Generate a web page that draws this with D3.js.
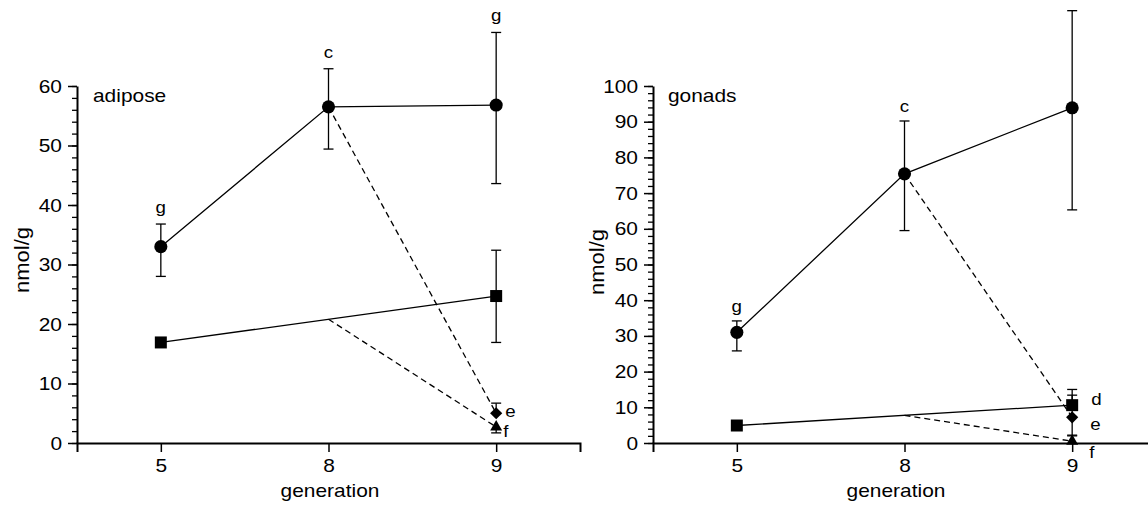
<!DOCTYPE html>
<html>
<head>
<meta charset="utf-8">
<script src="https://cdn.jsdelivr.net/npm/d3@7"></script>
<style>
  body { margin: 0; background: #fff; }
  svg { display: block; }
  text { font-family: "Liberation Sans", Arial, sans-serif; fill: #000; }
</style>
</head>
<body>
<svg id="chart" width="1148" height="506"></svg>
<script>
// ---- data -------------------------------------------------------------
const generations = ["5", "8", "9"];
const yTitle = "nmol/g";
const xTitle = "generation";

// adipose tissue
const adiposeCircleMean = [33.0, 56.5, 56.8];
const adiposeCircleLow = [28.0, 49.4, 43.6];
const adiposeCircleHigh = [36.8, 62.9, 69.0];
const adiposeCircleLetters = ["g", "c", "g"];
const adiposeSquareGens = ["5", "9"];
const adiposeSquareMean = [16.9, 24.7];
const adiposeSquareLow = [null, 16.9];
const adiposeSquareHigh = [null, 32.4];
const adiposeSquareLetters = [null, null];
const adiposeDiamondMean = [5.0];
const adiposeDiamondLow = [null];
const adiposeDiamondHigh = [6.7];
const adiposeDiamondLetters = ["e"];
const adiposeTriangleMean = [2.7];
const adiposeTriangleLow = [1.7];
const adiposeTriangleHigh = [null];
const adiposeTriangleLetters = ["f"];

// gonads
const gonadsCircleMean = [31.0, 75.4, 93.9];
const gonadsCircleLow = [25.8, 59.5, 65.3];
const gonadsCircleHigh = [34.2, 90.2, 121.1];
const gonadsCircleLetters = ["g", "c", null];
const gonadsSquareGens = ["5", "9"];
const gonadsSquareMean = [4.9, 10.6];
const gonadsSquareLow = [null, null];
const gonadsSquareHigh = [null, 15.0];
const gonadsSquareLetters = [null, "d"];
const gonadsDiamondMean = [7.2];
const gonadsDiamondLow = [2.0];
const gonadsDiamondHigh = [13.4];
const gonadsDiamondLetters = ["e"];
const gonadsTriangleMean = [0.5];
const gonadsTriangleLow = [null];
const gonadsTriangleHigh = [2.2];
const gonadsTriangleLetters = ["f"];

// ---- drawing ------------------------------------------------------------
const svg = d3.select("#chart");
const FONT = '"Liberation Sans", Arial, sans-serif';
const Y0 = 443, YTOP = 86;
const LABEL = 19;     // axis / title font size
const LETTER = 17;    // significance letters
const WIDEN = 1.1;    // slightly wide lettering

function points(gens, mean, low, high, letters) {
  return gens.map((g, i) => ({ gen: g, v: mean[i], lo: low[i], hi: high[i], letter: letters[i] }));
}

const symCircle = d3.symbol().type(d3.symbolCircle).size(135)();
const symSquare = d3.symbol().type(d3.symbolSquare).size(144)();
const symDiamond = d3.symbol().type(d3.symbolSquare).size(74)();
const symTriangle = d3.symbol().type(d3.symbolTriangle).size(62)();

function drawPanel(p) {
  const x = d3.scalePoint().domain(generations).range(p.xRange).padding(0.5);
  const y = d3.scaleLinear().domain([0, p.yMax]).range([Y0, YTOP]);
  const g = svg.append("g");

  // y axis: minor ticks every 2, major every 10
  const yMinor = g.append("g").attr("transform", `translate(${p.xRange[0]},0)`)
    .call(d3.axisLeft(y).tickValues(d3.range(0, p.yMax + 0.5, 2)).tickSize(5).tickFormat("").tickSizeOuter(0));
  yMinor.select(".domain").remove();
  yMinor.selectAll("line").attr("stroke-width", 1.3);

  const yMajor = g.append("g").attr("transform", `translate(${p.xRange[0]},0)`)
    .call(d3.axisLeft(y).tickValues(d3.range(0, p.yMax + 0.5, 10)).tickSize(9).tickPadding(6).tickSizeOuter(0));
  yMajor.attr("font-size", LABEL).attr("font-family", FONT);
  yMajor.select(".domain").attr("stroke-width", 2);
  yMajor.selectAll(".tick line").attr("stroke-width", 1.5);

  // x axis
  const xAxis = g.append("g").attr("transform", `translate(0,${Y0})`)
    .call(d3.axisBottom(x).tickSize(9).tickSizeOuter(9).tickPadding(7));
  xAxis.attr("font-size", LABEL).attr("font-family", FONT);
  xAxis.select(".domain").attr("stroke-width", 2);
  xAxis.selectAll(".tick line").attr("stroke-width", 1.5);

  // axis titles and panel name
  g.append("text").attr("x", p.xTitleX).attr("y", 497).attr("text-anchor", "middle")
    .attr("font-size", LABEL).text(xTitle);
  g.append("text").attr("transform", `translate(${p.yTitleX},${p.yTitleY}) rotate(-90)`)
    .attr("text-anchor", "middle").attr("font-size", 20).text(yTitle);
  g.append("text").attr("x", p.nameX).attr("y", 102).attr("font-size", LABEL).text(p.name);

  const px = d => x(d.gen), py = d => y(d.v);
  const circles = p.circles, squares = p.squares;
  const diamond = p.diamond[0], triangle = p.triangle[0];

  // solid connecting lines
  const line = d3.line().x(px).y(py);
  g.append("path").attr("d", line(circles)).attr("fill", "none").attr("stroke", "#000").attr("stroke-width", 1.3);
  g.append("path").attr("d", line(squares)).attr("fill", "none").attr("stroke", "#000").attr("stroke-width", 1.3);

  // dashed branches leaving generation 8
  const c8 = circles.find(d => d.gen === "8");
  const s0 = squares[0], s1 = squares[1];
  const t = (x("8") - px(s0)) / (px(s1) - px(s0));
  const branchY = py(s0) + t * (py(s1) - py(s0));
  const dashed = [
    [[x("8"), y(c8.v)], [px(diamond), py(diamond)]],
    [[x("8"), branchY], [px(triangle), py(triangle)]]
  ];
  g.selectAll(".branch").data(dashed).join("path").attr("class", "branch")
    .attr("d", d3.line()).attr("fill", "none").attr("stroke", "#000")
    .attr("stroke-width", 1.3).attr("stroke-dasharray", "6,4");

  // error bars
  const all = [...circles, ...squares, diamond, triangle];
  const eb = g.append("g").attr("stroke", "#000").attr("stroke-width", 1.3);
  all.forEach(d => {
    const cx = px(d);
    const top = d.hi != null ? y(d.hi) : py(d);
    const bot = d.lo != null ? y(d.lo) : py(d);
    eb.append("line").attr("x1", cx).attr("x2", cx).attr("y1", top).attr("y2", bot);
    if (d.hi != null) eb.append("line").attr("x1", cx - 5).attr("x2", cx + 5).attr("y1", top).attr("y2", top);
    if (d.lo != null) eb.append("line").attr("x1", cx - 5).attr("x2", cx + 5).attr("y1", bot).attr("y2", bot);
  });

  // markers
  const mark = (data, path, rot) => g.selectAll(null).data(data).join("path")
    .attr("d", path).attr("fill", "#000")
    .attr("transform", d => `translate(${px(d)},${py(d)})${rot ? " rotate(45)" : ""}`);
  mark(circles, symCircle);
  mark(squares, symSquare);
  mark([diamond], symDiamond, true);
  mark([triangle], symTriangle);

  // letters above the circle error bars
  g.selectAll(null).data(circles.filter(d => d.letter)).join("text")
    .attr("x", px).attr("y", d => y(d.hi) - p.letterGap)
    .attr("text-anchor", "middle").attr("font-size", LETTER).text(d => d.letter);

  // letters beside the generation-9 markers
  p.side.forEach(s => {
    const d = s.point;
    g.append("text").attr("x", px(d) + s.dx).attr("y", py(d) + s.dy)
      .attr("font-size", LETTER).text(d.letter);
  });
}

const adiposeCircles = points(generations, adiposeCircleMean, adiposeCircleLow, adiposeCircleHigh, adiposeCircleLetters);
const adiposeSquares = points(adiposeSquareGens, adiposeSquareMean, adiposeSquareLow, adiposeSquareHigh, adiposeSquareLetters);
const adiposeDiamond = points(["9"], adiposeDiamondMean, adiposeDiamondLow, adiposeDiamondHigh, adiposeDiamondLetters);
const adiposeTriangle = points(["9"], adiposeTriangleMean, adiposeTriangleLow, adiposeTriangleHigh, adiposeTriangleLetters);

drawPanel({
  name: "adipose", yMax: 60, xRange: [77, 580],
  xTitleX: 330, yTitleX: 29, yTitleY: 260, nameX: 93, letterGap: 11,
  circles: adiposeCircles, squares: adiposeSquares,
  diamond: adiposeDiamond, triangle: adiposeTriangle,
  side: [
    { point: adiposeDiamond[0], dx: 9, dy: 4 },
    { point: adiposeTriangle[0], dx: 7, dy: 10 }
  ]
});

const gonadsCircles = points(generations, gonadsCircleMean, gonadsCircleLow, gonadsCircleHigh, gonadsCircleLetters);
const gonadsSquares = points(gonadsSquareGens, gonadsSquareMean, gonadsSquareLow, gonadsSquareHigh, gonadsSquareLetters);
const gonadsDiamond = points(["9"], gonadsDiamondMean, gonadsDiamondLow, gonadsDiamondHigh, gonadsDiamondLetters);
const gonadsTriangle = points(["9"], gonadsTriangleMean, gonadsTriangleLow, gonadsTriangleHigh, gonadsTriangleLetters);

drawPanel({
  name: "gonads", yMax: 100, xRange: [653, 1156],
  xTitleX: 896, yTitleX: 604, yTitleY: 262, nameX: 668, letterGap: 9,
  circles: gonadsCircles, squares: gonadsSquares,
  diamond: gonadsDiamond, triangle: gonadsTriangle,
  side: [
    { point: gonadsSquares[1], dx: 19, dy: 0 },
    { point: gonadsDiamond[0], dx: 18, dy: 13 },
    { point: gonadsTriangle[0], dx: 17, dy: 17 }
  ]
});

// widen all lettering a little, keeping anchors in place
svg.selectAll("text").each(function () {
  const len = this.getComputedTextLength();
  if (len > 0) d3.select(this).attr("textLength", len * WIDEN).attr("lengthAdjust", "spacingAndGlyphs");
});
</script>
</body>
</html>
